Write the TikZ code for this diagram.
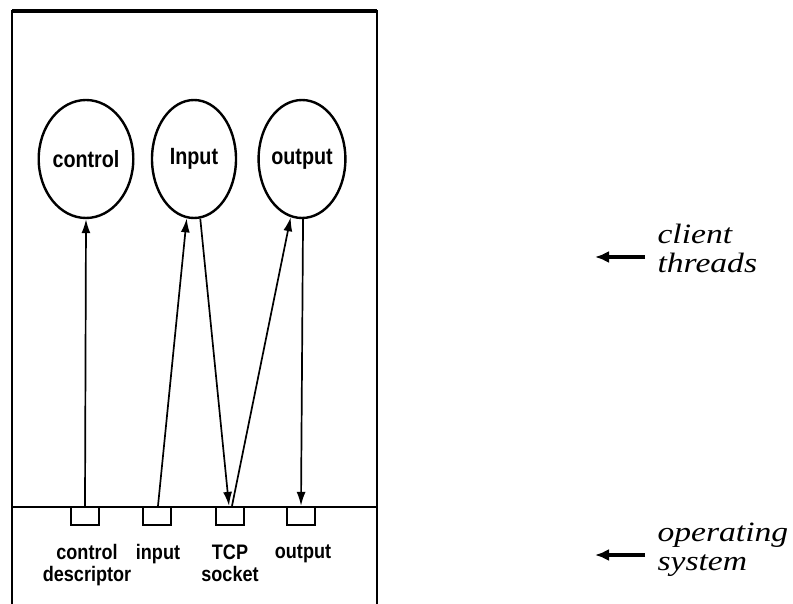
\documentclass[tikz,border=0pt]{standalone}
\usepackage{fontspec}
\usetikzlibrary{shapes.geometric,arrows.meta,calc}
\newfontfamily\threadfont[FakeStretch=0.84]{Liberation Sans}
\newfontfamily\portfont[FakeStretch=0.86]{Liberation Sans}
\newfontfamily\sidefont[FakeStretch=1.2]{Liberation Serif}
\begin{document}
\begin{tikzpicture}[x=1pt,y=-1pt,
  thread/.style={draw,ellipse,line width=2.4pt,minimum width=84pt,minimum height=118pt,inner sep=0pt,
    font=\threadfont\bfseries\fontsize{23.5}{24}\selectfont},
  port/.style={draw,rectangle,line width=2.2pt,minimum width=28pt,minimum height=18pt,inner sep=0pt},
  plabel/.style={align=center,font=\portfont\bfseries\fontsize{21}{22}\selectfont,anchor=north},
  flow/.style={line width=1.7pt,-{Latex[length=14pt,width=9pt]}},
  side/.style={align=left,anchor=west,font=\sidefont\itshape\fontsize{28}{29}\selectfont},
  pointer/.style={line width=3.5pt,-{Latex[length=14pt,width=12pt]}}]
\useasboundingbox (0,0) rectangle (793,604);
% outer frame, open at the bottom
\draw[line width=2.6pt] (12,604) -- (12,11) -- (377,11) -- (377,604);
\draw[line width=3.5pt] (12,11) -- (377,11);
% boundary between threads and operating system
\draw[line width=2.6pt] (12,507) -- (377,507);
% threads
\node[thread] (ctl) at (86,159) {control};
\node[thread] (inp) at (194,159) {Input};
\node[thread] (out) at (302,159) {output};
% descriptors
\node[port] (dctl) at (85,516) {};
\node[port] (dinp) at (157,516) {};
\node[port] (dtcp) at (230,516) {};
\node[port] (dout) at (301,516) {};
% labels of descriptors
\node[plabel] (lctl) at (87,541) {control\\descriptor};
\node[plabel] (linp) at (158,541) {input};
\node[plabel] (ltcp) at (230,541) {TCP\\socket};
\node[plabel] (lout) at (303,541) {output};
% data flow
\draw[flow] (dctl.north) -- (ctl.south);
\draw[flow] ($(dinp.north)+(1,0)$) -- (inp.-97);
\draw[flow] (inp.-84) -- ($(dtcp.north)+(-1,0)$);
\draw[flow] ($(dtcp.north)+(2,0)$) -- (out.-101);
\draw[flow] (out.-89) -- (dout.north);
% side annotations
\coordinate (ta) at (645,257);
\coordinate (tb) at (595,257);
\coordinate (oa) at (645,555);
\coordinate (ob) at (595,555);
\draw[pointer] (ta) -- (tb);
\draw[pointer] (oa) -- (ob);
\node[side] (thr) at (654,248) {client\\threads};
\node[side] (os) at (654,550) {operating\\system};
\end{tikzpicture}
\end{document}
